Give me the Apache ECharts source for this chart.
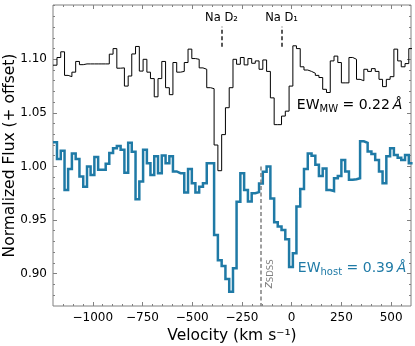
<!DOCTYPE html>
<html>
<head>
<meta charset="utf-8">
<script src="https://cdn.jsdelivr.net/npm/echarts@6/dist/echarts.min.js"></script>
<style>
  html, body { margin: 0; background: #fff; }
  #chart { width: 415px; height: 346px; }
</style>
</head>
<body>
<div id="chart"></div>
<script>
// bin edges (km/s), shared by both spectra
var velocity = [-1200, -1180, -1161, -1142, -1124, -1105, -1086, -1067, -1048, -1029, -1011,
  -992, -973, -954, -935, -917, -898, -879, -860, -841, -822, -804, -785, -766, -747, -728,
  -710, -691, -672, -653, -634, -615, -597, -578, -559, -540, -521, -502, -484, -465, -446,
  -427, -408, -390, -371, -352, -333, -314, -295, -277, -258, -239, -220, -201, -183, -164,
  -145, -126, -107, -88, -70, -51, -32, -13, 6, 24, 43, 62, 81, 100, 119, 137, 156, 175, 194,
  213, 232, 250, 269, 288, 307, 326, 344, 363, 382, 401, 420, 439, 457, 476, 495, 514, 533,
  551, 570, 589, 608];

// Milky Way spectrum (offset)
var fluxMW = [1.0945, 1.1017, 1.107, 1.085, 1.0838, 1.088, 1.098, 1.095, 1.0957, 1.0957,
  1.0957, 1.0957, 1.0957, 1.0957, 1.0957, 1.1048, 1.110, 1.0917, 1.092, 1.075, 1.0844, 1.105,
  1.112, 1.089, 1.100, 1.088, 1.082, 1.065, 1.082, 1.098, 1.0735, 1.067, 1.097, 1.088, 1.0887,
  1.097, 1.1095, 1.1007, 1.100, 1.092, 1.0907, 1.0735, 1.0726, 1.020, 0.996, 1.0297, 1.0548,
  1.0735, 1.100, 1.0954, 1.1017, 1.0948, 1.1007, 1.0963, 1.0985, 1.0907, 1.0994, 1.0887, 1.064,
  1.039, 1.039, 1.047, 1.0516, 1.075, 1.1126, 1.110, 1.093, 1.090, 1.0887, 1.087, 1.085, 1.083,
  1.072, 1.069, 1.0985, 1.103, 1.097, 1.078, 1.078, 1.1017, 1.100, 1.0813, 1.080, 1.0907,
  1.0887, 1.0913, 1.0887, 1.0813, 1.0745, 1.0813, 1.0838, 1.1095, 1.0985, 1.093, 1.096, 1.110];

// host galaxy spectrum
var fluxHost = [1.0225, 1.007, 1.0147, 0.978, 0.9975, 1.012, 1.007, 0.9906, 0.981, 1.000,
  0.992, 1.0088, 0.997, 0.997, 1.0025, 1.0125, 1.017, 1.019, 1.0156, 0.994, 1.022, 1.0138,
  0.9694, 0.986, 1.0156, 1.003, 0.992, 1.0094, 0.9937, 1.0103, 1.003, 1.0094, 0.9953, 0.9937,
  0.9937, 0.9756, 0.9975, 0.9844, 0.9756, 0.981, 0.9844, 1.003, 1.003, 0.936, 0.9125, 0.907,
  0.895, 0.883, 0.905, 0.967, 0.9937, 0.978, 0.9672, 0.975, 0.976, 0.984, 0.995, 1.000, 0.970,
  0.948, 0.944, 0.9406, 0.932, 0.906, 0.919, 0.9625, 0.979, 0.9975, 1.012, 1.010, 1.0016,
  0.991, 0.998, 0.978, 0.977, 0.989, 0.991, 1.006, 0.9953, 0.9875, 0.988, 0.989, 1.0235, 1.022,
  1.014, 1.0116, 1.006, 0.9953, 0.9844, 1.0094, 1.017, 1.0106, 1.008, 1.006, 1.0106, 1.003];

var xTicks = [-1000, -750, -500, -250, 0, 250, 500];
var xMinorTicks = [-1150, -1100, -1050, -950, -900, -850, -800, -700, -650, -600, -550, -450,
  -400, -350, -300, -200, -150, -100, -50, 50, 100, 150, 200, 300, 350, 400, 450, 550];
var yTicks = [0.90, 0.95, 1.00, 1.05, 1.10];
var yMinorTicks = [0.88, 0.89, 0.91, 0.92, 0.93, 0.94, 0.96, 0.97, 0.98, 0.99, 1.01, 1.02,
  1.03, 1.04, 1.06, 1.07, 1.08, 1.09, 1.11, 1.12, 1.13, 1.14, 1.15];

var naD2 = -353, naD1 = -51, zSDSS = -155;

var FONT = 'DejaVu Sans';
var frameColor = '#808080';
var hostColor = '#1f7aa6';
var xMin = -1200, xMax = 600, yMin = 0.8697, yMax = 1.1507;

function steps(flux) {
  var d = [];
  for (var i = 0; i < flux.length; i++) d.push([velocity[i], flux[i]]);
  d.push([velocity[flux.length], flux[flux.length - 1]]);
  return d;
}

function axis(dim, position, ticks, len, label) {
  var a = {
    type: 'value',
    position: position,
    min: dim === 'x' ? xMin : yMin,
    max: dim === 'x' ? xMax : yMax,
    axisLine: { show: false, onZero: false },
    splitLine: { show: false },
    axisTick: { show: true, inside: true, length: len, customValues: ticks,
      lineStyle: { color: frameColor, width: 1 } },
    axisLabel: { show: false }
  };
  if (label) {
    a.axisLabel = {
      show: true, customValues: ticks, color: '#000', fontFamily: FONT, fontSize: 12, margin: 6,
      formatter: dim === 'x'
        ? function (v) { return v < 0 ? '\u2212' + (-v) : String(v); }
        : function (v) { return v.toFixed(2); }
    };
  }
  return a;
}

var chart = echarts.init(document.getElementById('chart'));

var xAxes = [
  axis('x', 'bottom', xTicks, 4, true),
  axis('x', 'bottom', xMinorTicks, 2, false),
  axis('x', 'top', xTicks, 4, false),
  axis('x', 'top', xMinorTicks, 2, false)
];
xAxes[0].name = 'Velocity (km s\u207B\u00B9)';
xAxes[0].nameLocation = 'middle';
xAxes[0].nameGap = 22;
xAxes[0].nameMoveOverlap = false;
xAxes[0].nameTextStyle = { color: '#000', fontFamily: FONT, fontSize: 15.5 };

var yAxes = [
  axis('y', 'left', yTicks, 4, true),
  axis('y', 'left', yMinorTicks, 2, false),
  axis('y', 'right', yTicks, 4, false),
  axis('y', 'right', yMinorTicks, 2, false)
];
yAxes[0].name = 'Normalized Flux (+ offset)';
yAxes[0].nameLocation = 'middle';
yAxes[0].nameGap = 35;
yAxes[0].nameMoveOverlap = false;
yAxes[0].nameTextStyle = { color: '#000', fontFamily: FONT, fontSize: 15.5 };

var option = {
  animation: false,
  backgroundColor: '#fff',
  grid: { left: 53, right: 4, top: 5, bottom: 40, show: true, containLabel: false,
    outerBoundsMode: 'none',
    borderColor: frameColor, borderWidth: 1, backgroundColor: 'transparent' },
  xAxis: xAxes,
  yAxis: yAxes,
  series: [
    {
      name: 'MW', type: 'line', step: 'end', showSymbol: false, data: steps(fluxMW),
      lineStyle: { color: '#000', width: 1, join: 'miter' }, z: 3,
      markLine: {
        silent: true, symbol: ['none', 'none'], label: { show: false },
        lineStyle: { color: '#222', width: 1.5, type: [4, 2.5] },
        data: [
          [{ coord: [naD2, 1.1118] }, { coord: [naD2, 1.1305] }],
          [{ coord: [naD1, 1.1118] }, { coord: [naD1, 1.1305] }]
        ]
      }
    },
    {
      name: 'host', type: 'line', step: 'end', showSymbol: false, data: steps(fluxHost),
      lineStyle: { color: hostColor, width: 2.5, join: 'miter' }, z: 2,
      markLine: {
        silent: true, symbol: ['none', 'none'], label: { show: false },
        lineStyle: { color: frameColor, width: 1.5, type: [4, 2.5] },
        data: [[{ coord: [zSDSS, 1.00] }, { coord: [zSDSS, yMin] }]]
      }
    }
  ]
};
chart.setOption(option);

function px(x, y) { return chart.convertToPixel({ seriesIndex: 0 }, [x, y]); }

var pD2 = px(naD2, 1.1386), pD1 = px(naD1, 1.1386);
var pMW = px(26, 1.0573), pHost = px(31, 0.905), pZ = px(-117, 0.8996);

chart.setOption({
  graphic: [
    { type: 'text', x: pD2[0], y: pD2[1], style: { text: 'Na D\u2082', fill: '#000',
      font: '11.5px "DejaVu Sans"', align: 'center', verticalAlign: 'middle' } },
    { type: 'text', x: pD1[0], y: pD1[1], style: { text: 'Na D\u2081', fill: '#000',
      font: '11.5px "DejaVu Sans"', align: 'center', verticalAlign: 'middle' } },
    { type: 'text', x: pMW[0], y: pMW[1], style: {
      text: '{m|EW}{s|MW}{m| = 0.22\u2009}{a|\u00C5}', align: 'left', verticalAlign: 'middle',
      rich: {
        m: { fontSize: 14, fontFamily: FONT, fill: '#000', lineHeight: 18 },
        s: { fontSize: 10, fontFamily: FONT, fill: '#000', lineHeight: 18, verticalAlign: 'bottom' },
        a: { fontSize: 14, fontFamily: FONT, fill: '#000', lineHeight: 18, fontStyle: 'italic' }
      } } },
    { type: 'text', x: pHost[0], y: pHost[1], style: {
      text: '{m|EW}{s|host}{m| = 0.39\u2009}{a|\u00C5}', align: 'left', verticalAlign: 'middle',
      rich: {
        m: { fontSize: 14, fontFamily: FONT, fill: hostColor, lineHeight: 18 },
        s: { fontSize: 10, fontFamily: FONT, fill: hostColor, lineHeight: 18, verticalAlign: 'bottom' },
        a: { fontSize: 14, fontFamily: FONT, fill: hostColor, lineHeight: 18, fontStyle: 'italic' }
      } } },
    { type: 'text', x: pZ[0], y: pZ[1], rotation: Math.PI / 2, style: {
      text: '{z|z}{s|SDSS}', align: 'center', verticalAlign: 'middle',
      rich: {
        z: { fontSize: 12, fontFamily: FONT, fill: frameColor, fontStyle: 'italic', lineHeight: 14 },
        s: { fontSize: 8.5, fontFamily: FONT, fill: frameColor, lineHeight: 14, verticalAlign: 'bottom' }
      } } }
  ]
});
</script>
</body>
</html>
